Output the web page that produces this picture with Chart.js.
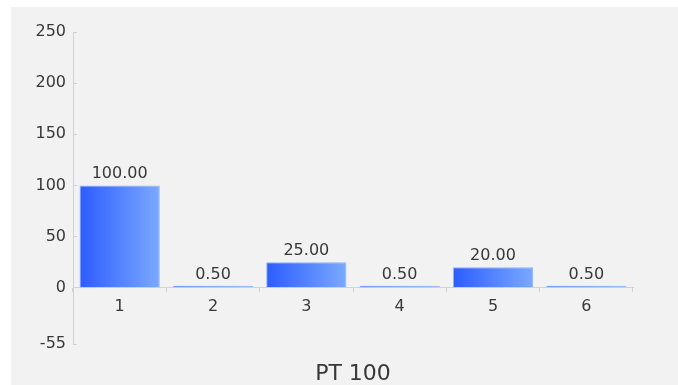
<!DOCTYPE html>
<html>
<head>
<meta charset="utf-8">
<script src="https://cdn.jsdelivr.net/npm/chart.js@4"></script>
<style>
  html, body { margin: 0; padding: 0; background: #ffffff; }
  #wrap { position: absolute; left: 0; top: 0; width: 678px; height: 385px; }
</style>
</head>
<body>
<div id="wrap"><canvas id="c" width="678" height="385"></canvas></div>
<script>
const categories = ['1', '2', '3', '4', '5', '6'];
const values = [100, 0.5, 25, 0.5, 20, 0.5];
const yTickValues = [-55, 0, 50, 100, 150, 200, 250];
const chartTitle = 'PT 100';

const FONT = 'DejaVu Sans';
const TEXT = '#383838';
const AXIS = '#d2d2d2';

const panelPlugin = {
  id: 'panel',
  beforeDraw(chart) {
    const ctx = chart.ctx;
    ctx.save();
    ctx.fillStyle = '#f2f2f2';
    ctx.fillRect(11, 7, chart.width - 11, chart.height - 7);
    ctx.restore();
  }
};

const valueLabels = {
  id: 'valueLabels',
  afterDatasetsDraw(chart) {
    const ctx = chart.ctx;
    const meta = chart.getDatasetMeta(0);
    ctx.save();
    ctx.font = '16px "' + FONT + '"';
    ctx.fillStyle = TEXT;
    ctx.textAlign = 'center';
    ctx.textBaseline = 'alphabetic';
    meta.data.forEach((bar, i) => {
      const v = chart.data.datasets[0].data[i];
      ctx.fillText(v.toFixed(2), bar.x, Math.min(bar.y, bar.base) - 7);
    });
    ctx.restore();
  }
};

function barGradient(context) {
  const chart = context.chart;
  const xs = chart.scales && chart.scales.x;
  const fallback = '#4a7dff';
  if (!xs || context.dataIndex === undefined || !chart.chartArea) return fallback;
  const center = xs.getPixelForValue(context.dataIndex);
  const w = (xs.width / categories.length) * 0.86;
  if (!isFinite(center) || !isFinite(w) || w <= 0) return fallback;
  const g = chart.ctx.createLinearGradient(center - w / 2, 0, center + w / 2, 0);
  g.addColorStop(0, '#2c5cff');
  g.addColorStop(1, '#7aa9ff');
  return g;
}

new Chart(document.getElementById('c'), {
  type: 'bar',
  data: {
    labels: categories,
    datasets: [{
      data: values,
      backgroundColor: barGradient,
      borderColor: '#8db3ff',
      borderWidth: 1,
      minBarLength: 2,
      barPercentage: 0.86,
      categoryPercentage: 1.0
    }]
  },
  options: {
    responsive: false,
    animation: false,
    devicePixelRatio: 1,
    layout: { padding: { top: 32, right: 45, bottom: 0, left: 0 } },
    plugins: {
      legend: { display: false },
      tooltip: { enabled: false },
      title: {
        display: true,
        text: chartTitle,
        position: 'bottom',
        fullSize: false,
        color: TEXT,
        font: { family: FONT, size: 22, weight: 'normal', lineHeight: 1 },
        padding: { top: 19, bottom: 0 }
      }
    },
    scales: {
      x: {
        position: { y: 0 },
        grid: {
          drawOnChartArea: false,
          drawTicks: true,
          tickLength: 4,
          color: AXIS,
          offset: true
        },
        border: { display: true, color: AXIS, width: 1 },
        ticks: {
          color: TEXT,
          font: { family: FONT, size: 16 },
          padding: 6,
          maxRotation: 0
        }
      },
      y: {
        min: -55,
        max: 250,
        afterBuildTicks(scale) {
          scale.ticks = yTickValues.map(v => ({ value: v }));
        },
        afterFit(scale) { scale.width = 73; },
        grid: {
          drawOnChartArea: false,
          drawTicks: true,
          tickLength: -4,
          color: AXIS
        },
        border: { display: true, color: AXIS, width: 1 },
        ticks: {
          color: TEXT,
          font: { family: FONT, size: 16 },
          padding: 11
        }
      }
    }
  },
  plugins: [panelPlugin, valueLabels]
});
</script>
</body>
</html>
